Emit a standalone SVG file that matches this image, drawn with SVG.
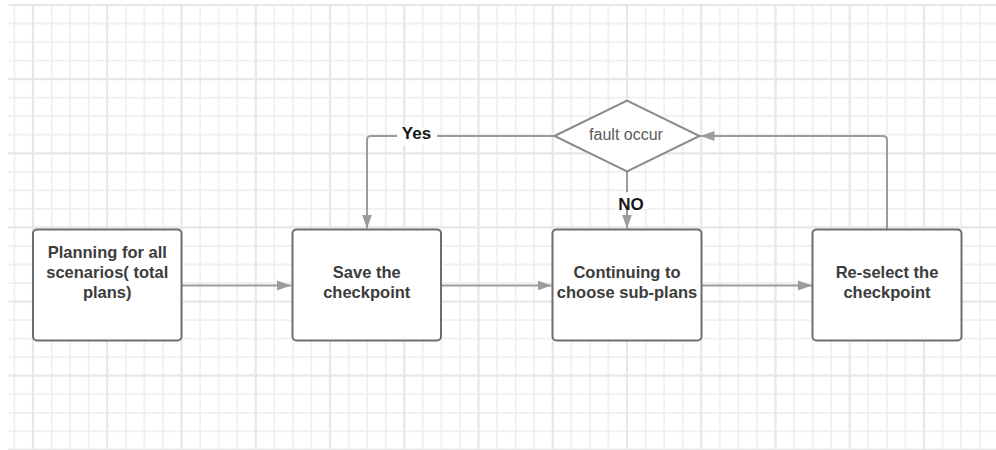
<svg xmlns="http://www.w3.org/2000/svg" width="996" height="450" viewBox="0 0 996 450">
  <style>
    .minor { stroke: #f0f0f0; stroke-width: 1.8; fill: none; }
    .major { stroke: #e7e7e7; stroke-width: 2.2; fill: none; }
    .box { fill: #ffffff; stroke: #6e6e6e; stroke-width: 2; }
    .diamond { fill: #ffffff; stroke: #8a8a8a; stroke-width: 2; }
    .node-text { font-family: "Liberation Sans", Arial, sans-serif; font-weight: bold; font-size: 16.5px; fill: #3c3c3c; text-anchor: middle; }
    .dec-text { font-family: "Liberation Sans", Arial, sans-serif; font-size: 16px; fill: #5a5a5a; text-anchor: middle; }
    .edge { stroke: #9c9c9c; stroke-width: 2; fill: none; }
    .label-bg { fill: #ffffff; }
    .label { font-family: "Liberation Sans", Arial, sans-serif; font-weight: bold; font-size: 17px; fill: #161616; text-anchor: middle; }
  </style>
  <defs>
    <marker id="arrow" markerUnits="userSpaceOnUse" markerWidth="15" markerHeight="11" refX="14" refY="5.5" orient="auto">
      <path d="M0,0.5 L14,5.5 L0,10.5 z" fill="#9c9c9c"/>
    </marker>
  </defs>

  <!-- background and grid paper -->
  <rect x="0" y="0" width="996" height="450" fill="#ffffff"/>
  <g id="grid">
    <path class="minor" d="M14.4,5V450M51.6,5V450M70.1,5V450M88.7,5V450M125.8,5V450M144.4,5V450M162.9,5V450M200.1,5V450M218.6,5V450M237.2,5V450M274.3,5V450M292.9,5V450M311.4,5V450M348.6,5V450M367.1,5V450M385.7,5V450M422.8,5V450M441.4,5V450M459.9,5V450M497.1,5V450M515.6,5V450M534.2,5V450M571.3,5V450M589.9,5V450M608.4,5V450M645.6,5V450M664.1,5V450M682.7,5V450M719.8,5V450M738.4,5V450M756.9,5V450M794.1,5V450M812.6,5V450M831.2,5V450M868.3,5V450M886.9,5V450M905.4,5V450M942.6,5V450M961.1,5V450M979.7,5V450"/>
    <path class="minor" d="M8,23.5H996M8,42.1H996M8,60.6H996M8,97.7H996M8,116.2H996M8,134.7H996M8,171.8H996M8,190.4H996M8,208.9H996M8,246H996M8,264.5H996M8,283H996M8,320.1H996M8,338.6H996M8,357.2H996M8,394.2H996M8,412.8H996M8,431.3H996"/>
    <path class="major" d="M33,5V450M107.25,5V450M181.5,5V450M255.75,5V450M330,5V450M404.25,5V450M478.5,5V450M552.75,5V450M627,5V450M701.25,5V450M775.5,5V450M849.75,5V450M924,5V450"/>
    <path class="major" d="M8,5H996M8,79.1H996M8,153.3H996M8,227.4H996M8,301.6H996M8,375.7H996M8,449.8H996"/>
  </g>

  <!-- connectors -->
  <g id="connectors">
    <path class="edge" d="M181.5,285.5H291" marker-end="url(#arrow)"/>
    <path class="edge" d="M441,285.5H551.5" marker-end="url(#arrow)"/>
    <path class="edge" d="M701.5,285.5H812" marker-end="url(#arrow)"/>
    <path class="edge" d="M887,229.5V140Q887,136 883,136H700.5" marker-end="url(#arrow)"/>
    <path class="edge" d="M554.5,136H371Q367,136 367,140V228.5" marker-end="url(#arrow)"/>
    <path class="edge" d="M627,171.5V228.5" marker-end="url(#arrow)"/>
    <rect class="label-bg" x="397" y="127" width="40" height="18"/>
    <text class="label" x="416.5" y="138.5">Yes</text>
    <rect class="label-bg" x="616" y="192" width="32" height="17"/>
    <text class="label" x="631" y="209.5">NO</text>
  </g>

  <!-- nodes -->
  <g id="node-planning">
    <rect class="box" x="33" y="229.5" width="148.5" height="111" rx="4"/>
    <text class="node-text" x="107.25" y="257.5">Planning for all</text>
    <text class="node-text" x="107.25" y="277.5">scenarios( total</text>
    <text class="node-text" x="107.25" y="297.5">plans)</text>
  </g>
  <g id="node-save">
    <rect class="box" x="292.5" y="229.5" width="148.5" height="111" rx="4"/>
    <text class="node-text" x="366.75" y="277.5">Save the</text>
    <text class="node-text" x="366.75" y="297.5">checkpoint</text>
  </g>
  <g id="node-continue">
    <rect class="box" x="552.5" y="229.5" width="149" height="111" rx="4"/>
    <text class="node-text" x="627" y="277.5">Continuing to</text>
    <text class="node-text" x="627" y="297.5">choose sub-plans</text>
  </g>
  <g id="node-reselect">
    <rect class="box" x="812.5" y="229.5" width="149" height="111" rx="4"/>
    <text class="node-text" x="887" y="277.5">Re-select the</text>
    <text class="node-text" x="887" y="297.5">checkpoint</text>
  </g>
  <g id="node-fault">
    <polygon class="diamond" points="554.5,136 627,100.5 699.5,136 627,171.5"/>
    <text class="dec-text" x="626" y="140">fault occur</text>
  </g>
</svg>
